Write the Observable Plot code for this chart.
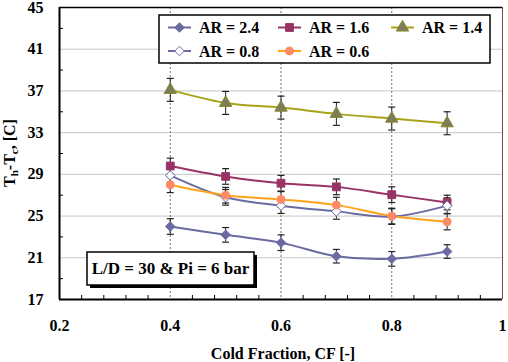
<!DOCTYPE html>
<html><head><meta charset="utf-8">
<script src="https://cdn.jsdelivr.net/npm/d3@7"></script>
<script src="https://cdn.jsdelivr.net/npm/@observablehq/plot@0.6"></script>
<style>body{margin:0;background:#fff;} svg{display:block;} svg text{font-family:"Liberation Serif","Times New Roman",Tinos,"DejaVu Serif","Noto Serif",serif !important;}</style>
</head><body><div id="chart"></div>
<script>
// ---- data ----
const cf = [0.4, 0.5, 0.6, 0.7, 0.8, 0.9];
const ar24 = [24.0, 23.2, 22.45, 21.15, 20.9, 21.6];
const ar16 = [29.8, 28.8, 28.15, 27.8, 27.05, 26.3];
const ar14 = [37.1, 35.85, 35.4, 34.8, 34.35, 33.9];
const ar08 = [28.9, 26.8, 26.0, 25.45, 24.95, 26.0];
const ar06 = [28.0, 27.0, 26.6, 26.05, 25.0, 24.45];
const err24 = [0.75, 0.7, 0.75, 0.65, 0.7, 0.65];
const err16 = [0.75, 0.75, 0.75, 0.75, 0.75, 0.7];
const err14 = [1.1, 1.1, 1.1, 1.1, 1.1, 1.1];
const err08 = [0.75, 0.75, 0.75, 0.75, 0.75, 0.75];
const err06 = [0.75, 0.75, 0.75, 0.75, 0.75, 0.77];
const seriesNames = ["AR = 2.4", "AR = 1.6", "AR = 1.4", "AR = 0.8", "AR = 0.6"];
const xTicks = [0.2, 0.4, 0.6, 0.8, 1];
const xMinor = [0.24, 0.28, 0.32, 0.36, 0.44, 0.48, 0.52, 0.56, 0.64, 0.68, 0.72, 0.76, 0.84, 0.88, 0.92, 0.96];
const yTicks = [17, 21, 25, 29, 33, 37, 41, 45];
const yGrid = [21, 25, 29, 33, 37, 41];
const yMinor = [19, 23, 27, 31, 35, 39, 43];
const vGrid = [0.4, 0.6, 0.8];
const annotation = "L/D = 30 & Pi = 6 bar";

const values = [ar24, ar16, ar14, ar08, ar06];
const errs = [err24, err16, err14, err08, err06];
const looks = [
  {line: "#6b6ba3", fill: "#6b6ba3", stroke: "#6b6ba3", symbol: "diamond2", r: 4.3},
  {line: "#993366", fill: "#993366", stroke: "#993366", symbol: "square", r: 4.4},
  {line: "#a8a418", fill: "#7c7c58", stroke: "#8a8a30", symbol: "triangle", r: 4.6},
  {line: "#6b6ba3", fill: "#ffffff", stroke: "#6b6ba3", symbol: "diamond2", r: 4.3},
  {line: "#ffa31f", fill: "#ff8a66", stroke: "#ff8a66", symbol: "circle", r: 4.0}
];

const rows = [];
seriesNames.forEach((s, i) => cf.forEach((x, j) => rows.push({s, i, x, y: values[i][j], e: errs[i][j]})));

const cap = {draw(ctx) { ctx.moveTo(-3.5, 0); ctx.lineTo(3.5, 0); }};
const W = 508, H = 362, mL = 59, mR = 6, mT = 7, mB = 63;
const FONT = "'Liberation Serif', 'Times New Roman', Tinos, 'DejaVu Serif', serif";

const marks = [
  Plot.ruleY(yGrid, {stroke: "#c6c6c6", strokeWidth: 1}),
  Plot.ruleX(vGrid, {stroke: "#707070", strokeWidth: 1, strokeDasharray: "2,2"}),
  Plot.tickX(xMinor, {x: d => d, stroke: "#000", insetTop: (H - mT - mB) - 4}),
  Plot.tickY(yMinor, {y: d => d, stroke: "#000", insetRight: (W - mL - mR) - 4})
];
looks.forEach((lk, i) => {
  const d = rows.filter(r => r.i === i);
  marks.push(Plot.line(d, {x: "x", y: "y", stroke: lk.line, strokeWidth: 2, curve: "catmull-rom"}));
});
marks.push(
  Plot.ruleX(rows, {x: "x", y1: d => d.y - d.e, y2: d => d.y + d.e, stroke: "#222", strokeWidth: 1}),
  Plot.dot(rows, {x: "x", y: d => d.y - d.e, symbol: cap, stroke: "#222", strokeWidth: 1.2}),
  Plot.dot(rows, {x: "x", y: d => d.y + d.e, symbol: cap, stroke: "#222", strokeWidth: 1.2})
);
looks.forEach((lk, i) => {
  const d = rows.filter(r => r.i === i);
  marks.push(Plot.dot(d, {x: "x", y: "y", symbol: lk.symbol, r: lk.r, fill: lk.fill, stroke: lk.stroke, strokeWidth: 1}));
});
marks.push(
  Plot.ruleX([1], {stroke: "#555", strokeWidth: 1}),
  Plot.ruleY([45], {stroke: "#000", strokeWidth: 1.5}),
  Plot.ruleX([0.2], {stroke: "#000", strokeWidth: 2}),
  Plot.ruleY([17], {stroke: "#000", strokeWidth: 2}),
  Plot.axisX({ticks: xTicks, tickSize: 0, tickPadding: 20, tickFormat: d => d === 1 ? "1" : d.toFixed(1), label: null, fontSize: 16, fontWeight: "bold"}),
  Plot.axisY({ticks: yTicks, tickSize: 0, tickPadding: 16, label: null, fontSize: 16, fontWeight: "bold"})
);

const chart = Plot.plot({
  width: W, height: H, marginLeft: mL, marginRight: mR, marginTop: mT, marginBottom: mB,
  style: {fontFamily: FONT, fontWeight: "bold", fontSize: "16px", color: "#000", background: "#fff", overflow: "visible"},
  x: {domain: [0.2, 1]}, y: {domain: [17, 45]},
  marks
});
document.getElementById("chart").appendChild(chart);

const svg = d3.select(chart);

// legend box
const lg = svg.append("g").attr("font-family", FONT).attr("font-weight", "bold").attr("font-size", 16).attr("text-anchor", "start");
lg.append("rect").attr("x", 159).attr("y", 15).attr("width", 331).attr("height", 48)
  .attr("fill", "#fff").attr("stroke", "#000").attr("stroke-width", 1.5);
const cols = [168, 278, 391];
const rowsY = [27.5, 51];
looks.forEach((lk, i) => {
  const cx = cols[i % 3], cy = rowsY[Math.floor(i / 3)];
  lg.append("line").attr("x1", cx).attr("x2", cx + 23).attr("y1", cy).attr("y2", cy)
    .attr("stroke", lk.line).attr("stroke-width", 2);
  const sym = {diamond2: d3.symbolDiamond2, square: d3.symbolSquare, triangle: d3.symbolTriangle, circle: d3.symbolCircle}[lk.symbol];
  lg.append("path").attr("d", d3.symbol(sym, Math.PI * lk.r * lk.r)())
    .attr("transform", `translate(${cx + 11.5},${cy})`)
    .attr("fill", lk.fill).attr("stroke", lk.stroke);
  lg.append("text").attr("x", cx + 31).attr("y", cy).attr("dy", "0.35em").attr("text-anchor", "start")
    .attr("fill", "#000").text(seriesNames[i]);
});

// annotation box with shadow
const ag = svg.append("g").attr("font-family", FONT).attr("font-weight", "bold");
ag.append("rect").attr("x", 90).attr("y", 255).attr("width", 167).attr("height", 33).attr("fill", "#000");
ag.append("rect").attr("x", 87).attr("y", 252).attr("width", 167).attr("height", 33)
  .attr("fill", "#fff").attr("stroke", "#000").attr("stroke-width", 1.5);
ag.append("text").attr("x", 170.5).attr("y", 268.5).attr("dy", "0.35em").attr("text-anchor", "middle")
  .attr("font-size", 17).attr("fill", "#000").text(annotation);

// axis titles
svg.append("text").attr("x", 283).attr("y", 359).attr("text-anchor", "middle")
  .attr("font-family", FONT).attr("font-weight", "bold").attr("font-size", 16).attr("fill", "#000")
  .text("Cold Fraction, CF [-]");
const yt = svg.append("text").attr("transform", "translate(15,153) rotate(-90)").attr("text-anchor", "middle")
  .attr("font-family", FONT).attr("font-weight", "bold").attr("font-size", 16).attr("fill", "#000");
yt.append("tspan").text("T");
yt.append("tspan").attr("font-size", 11).attr("dy", 3).text("h");
yt.append("tspan").attr("dy", -3).text("-T");
yt.append("tspan").attr("font-size", 11).attr("dy", 3).text("c");
yt.append("tspan").attr("dy", -3).text(", [C]");
</script></body></html>
